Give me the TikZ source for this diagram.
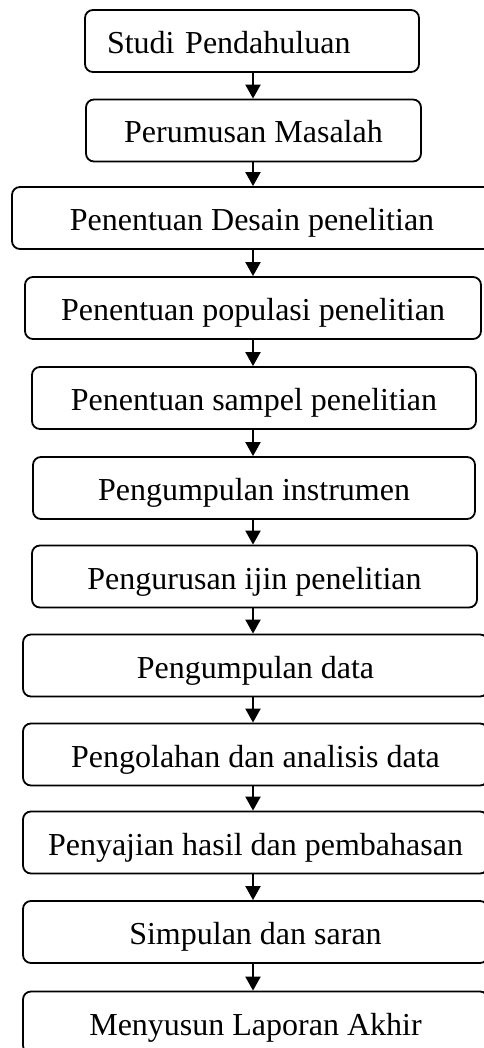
\documentclass[tikz,border=0pt]{standalone}
\usepackage{fontspec}
\setmainfont{Liberation Serif}
\usetikzlibrary{arrows.meta}

\begin{document}
\begin{tikzpicture}[x=1pt,y=-1pt,line width=1.8pt]
        %
        % `stage' is used for every box of the flow.
        % `flow' is used for the arrows between the boxes.
        \tikzstyle{stage} = [draw,rounded corners=8pt,minimum height=62pt,inner xsep=0pt,inner ysep=0pt,text height=30pt,text depth=5pt,font=\fontsize{32}{38}\selectfont]
        \tikzstyle{flow} = [-{Triangle[length=14pt,width=15pt]},line width=2pt]
        %
        \useasboundingbox (0,0) rectangle (483,1048);
        \coordinate (ax) at (253,0);
        %
        % Boxes
        \node[stage,minimum width=334pt,text width=290pt,inner xsep=22pt,align=left] (s1) at (252,41) {Studi Pendahuluan};
        \node[stage,minimum width=335pt] (s2) at (253.5,130.5) {Perumusan Masalah};
        \node[stage,minimum width=480pt] (s3) at (252,218) {Penentuan Desain penelitian};
        \node[stage,minimum width=456pt] (s4) at (253,308) {Penentuan populasi penelitian};
        \node[stage,minimum width=444pt] (s5) at (254,398) {Penentuan sampel penelitian};
        \node[stage,minimum width=442pt] (s6) at (254,488) {Pengumpulan instrumen};
        \node[stage,minimum width=445pt] (s7) at (254.5,576.5) {Pengurusan ijin penelitian};
        \node[stage,minimum width=465pt] (s8) at (255.5,665.5) {Pengumpulan data};
        \node[stage,minimum width=465pt] (s9) at (255.5,754.5) {Pengolahan dan analisis data};
        \node[stage,minimum width=465pt] (s10) at (255.5,842.5) {Penyajian hasil dan pembahasan};
        \node[stage,minimum width=465pt] (s11) at (255.5,932) {Simpulan dan saran};
        \node[stage,minimum width=465pt] (s12) at (255.5,1022.5) {Menyusun Laporan Akhir};
        %
        % Arrows
        \draw[flow] (s1.south -| ax) -- (s2.north -| ax);
        \draw[flow] (s2.south -| ax) -- (s3.north -| ax);
        \draw[flow] (s3.south -| ax) -- (s4.north -| ax);
        \draw[flow] (s4.south -| ax) -- (s5.north -| ax);
        \draw[flow] (s5.south -| ax) -- (s6.north -| ax);
        \draw[flow] (s6.south -| ax) -- (s7.north -| ax);
        \draw[flow] (s7.south -| ax) -- (s8.north -| ax);
        \draw[flow] (s8.south -| ax) -- (s9.north -| ax);
        \draw[flow] (s9.south -| ax) -- (s10.north -| ax);
        \draw[flow] (s10.south -| ax) -- (s11.north -| ax);
        \draw[flow] (s11.south -| ax) -- (s12.north -| ax);
        %
\end{tikzpicture}
\end{document}
